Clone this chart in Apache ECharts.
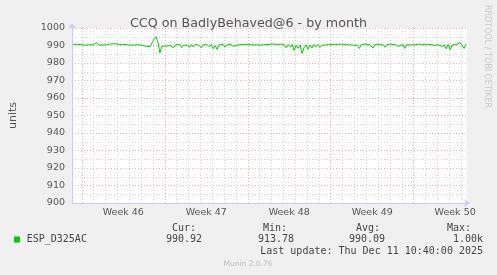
<!DOCTYPE html>
<html>
<head>
<meta charset="utf-8">
<script src="https://cdn.jsdelivr.net/npm/echarts@6/dist/echarts.min.js"></script>
<style>
html,body{margin:0;padding:0;background:#f0f0f0;}
#chart{width:497px;height:275px;}
</style>
</head>
<body>
<div id="chart"></div>
<script>
// ---- data ----
const titleText = 'CCQ on BadlyBehaved@6 - by month';
const seriesName = 'ESP_D325AC';
const weekLabels = ['Week 46', 'Week 47', 'Week 48', 'Week 49', 'Week 50'];
const weekStarts = [0, 168, 336, 504, 672];          // hours since Mon Nov 10 00:00
const yTicks = [900, 910, 920, 930, 940, 950, 960, 970, 980, 990, 1000];
const startHour = -18;   // first sample, hours since Mon Nov 10 00:00
const stepHours = 4;     // sample spacing
const values = [
  990.6, 990.4, 990.7, 990.3, 990.5, 990.8, 990.2, 990.6, 990.4, 990.7,
  990.3, 990.9, 991.6, 990.4, 990.8, 990.2, 991.2, 990.5, 990.1, 990.9,
  990.4, 991.0, 990.3, 990.7, 991.5, 990.6, 989.8, 990.5, 989.4, 990.2,
  989.7, 990.3, 990.1, 990.4, 990.3, 990.2, 990.1, 989.5, 989.0, 989.3,
  991.5, 993.5, 995.0, 992.0, 985.8, 989.6, 988.9, 989.7, 989.1, 990.0,
  990.2, 988.8, 990.4, 989.3, 990.6, 988.7, 990.1, 989.5, 990.3, 988.9,
  990.5, 989.2, 990.7, 989.6, 990.0, 988.6, 990.4, 989.8, 990.5, 989.3,
  990.6, 988.2, 989.9, 987.8, 990.3, 989.4, 990.7, 989.0, 990.4, 989.6,
  990.8, 989.5, 988.6, 990.3, 989.9, 990.5, 990.2, 990.7, 990.4, 990.6,
  990.5, 990.3, 990.8, 990.4, 990.6, 990.2, 990.7, 990.5, 990.3, 990.6,
  990.4, 990.9, 990.2, 990.6, 989.5, 990.8, 989.9, 990.4, 988.7, 990.5,
  989.2, 990.6, 987.2, 990.1, 988.4, 990.3, 985.5, 988.8, 990.4, 987.9,
  990.2, 988.6, 990.5, 989.3, 990.7, 988.9, 990.1, 989.6, 990.4, 989.9,
  990.5, 990.2, 990.7, 990.3, 990.6, 990.4, 990.8, 990.3, 990.5, 990.6,
  990.4, 990.7, 990.2, 990.5, 990.1, 988.3, 990.6, 990.4, 990.8, 990.2,
  990.5, 990.3, 988.6, 990.6, 990.4, 990.7, 990.5, 990.2, 989.0, 990.6,
  990.4, 990.8, 990.3, 990.5, 990.7, 989.5, 990.4, 990.6, 988.3, 990.5,
  990.6, 990.3, 990.7, 990.4, 990.5, 990.8, 990.2, 990.6, 990.4, 990.7,
  990.3, 990.6, 990.5, 990.2, 990.7, 990.4, 990.8, 989.3, 990.5, 988.1,
  990.6, 987.6, 990.3, 989.8, 990.5, 991.3, 991.6, 990.2, 988.3, 990.9
];
const legendHeads = ['Cur:', 'Min:', 'Avg:', 'Max:'];
const legendValues = ['990.92', '913.78', '990.09', '1.00k'];
const lastUpdate = 'Last update: Thu Dec 11 10:40:00 2025';
const footer = 'Munin 2.0.76';
const sideText = 'RRDTOOL / TOBI OETIKER';

// ---- derived ----
const xMin = -20, xMax = 780;
const seriesData = values.map((v, i) => [startHour + i * stepHours, v]);
const dayLines = [];
for (let h = 24; h < xMax; h += 24) if (weekStarts.indexOf(h) < 0) dayLines.push(h);
const weekMids = weekStarts.map(h => h + 84);

const sans = 'DejaVu Sans';
const mono = 'DejaVu Sans Mono';
const txt = '#444';
const axisBlue = '#c8c8ff';
const redGrid = 'rgba(235,110,110,0.55)';
const grayGrid = '#d4d4d4';

const chart = echarts.init(document.getElementById('chart'), null, {renderer: 'canvas'});

const headX = [172, 263, 356, 447];
const valX = [166, 258, 349, null];

const graphics = [
  {type: 'rect', shape: {x: 14, y: 236.5, width: 6, height: 6}, style: {fill: '#00cc00'}},
  {type: 'text', x: 26.7, y: 239.5, style: {text: seriesName, font: '10px ' + mono, fill: txt, textVerticalAlign: 'middle'}},
  {type: 'text', x: 483, y: 239.5, style: {text: legendValues[3], font: '10px ' + mono, fill: txt, textAlign: 'right', textVerticalAlign: 'middle'}},
  {type: 'text', x: 483, y: 251.5, style: {text: lastUpdate, font: '10px ' + mono, fill: txt, textAlign: 'right', textVerticalAlign: 'middle'}},
  {type: 'text', x: 248, y: 264.5, style: {text: footer, font: '7.5px ' + sans, fill: '#bbbbbb', textAlign: 'center', textVerticalAlign: 'middle'}},
  {type: 'text', x: 487, y: 5, rotation: -Math.PI / 2,
   style: {text: sideText, font: '8px ' + sans, fill: '#c8c8c8', textAlign: 'left', textVerticalAlign: 'middle'}}
];
legendHeads.forEach((t, i) => {
  graphics.push({type: 'text', x: headX[i], y: 228.5, style: {text: t, font: '10px ' + mono, fill: txt, textVerticalAlign: 'middle'}});
  if (valX[i] !== null) graphics.push({type: 'text', x: valX[i], y: 239.5, style: {text: legendValues[i], font: '10px ' + mono, fill: txt, textVerticalAlign: 'middle'}});
});

const hiddenAxisBase = {
  type: 'value', min: xMin, max: xMax, gridIndex: 0, position: 'bottom', offset: 0,
  axisLine: {show: false}, axisLabel: {show: false}
};

chart.setOption({
  animation: false,
  backgroundColor: '#f0f0f0',
  title: {
    text: titleText, left: 'center', top: 12,
    textStyle: {fontFamily: sans, fontSize: 12.7, fontWeight: 'normal', color: '#555'}
  },
  grid: {left: 67, right: 30, top: 28, bottom: 72, containLabel: false,
    show: true, backgroundColor: '#ffffff', borderWidth: 0},
  xAxis: [
    Object.assign({}, hiddenAxisBase, {
      axisTick: {show: false, customValues: dayLines},
      splitLine: {show: true, lineStyle: {color: grayGrid, width: 1, type: [1, 2]}}
    }),
    Object.assign({}, hiddenAxisBase, {
      axisTick: {show: false, customValues: weekStarts},
      splitLine: {show: true, lineStyle: {color: redGrid, width: 1, type: [1, 2]}}
    }),
    {
      type: 'value', min: xMin, max: xMax, gridIndex: 0, position: 'bottom', offset: 0,
      axisLine: {show: true, onZero: false, lineStyle: {color: axisBlue, width: 1}, symbol: ['none', 'arrow'], symbolSize: [6, 6], symbolOffset: [0, 3]},
      axisTick: {show: false, customValues: weekMids},
      axisLabel: {show: true, customValues: weekMids, margin: 5, color: '#555', fontFamily: sans, fontSize: 9.5,
        formatter: v => weekLabels[weekMids.indexOf(v)]},
      splitLine: {show: false}
    }
  ],
  yAxis: {
    type: 'value', min: 900, max: 1000, interval: 10,
    name: 'units', nameLocation: 'middle', nameGap: 53, nameRotate: 90,
    nameTextStyle: {fontFamily: sans, fontSize: 11, color: '#555'},
    axisLine: {show: true, onZero: false, lineStyle: {color: axisBlue, width: 1}, symbol: ['none', 'arrow'], symbolSize: [6, 6], symbolOffset: [0, 5]},
    axisTick: {show: false},
    axisLabel: {margin: 7, color: '#555', fontFamily: sans, fontSize: 9.5,
      formatter: v => yTicks.indexOf(v) >= 0 ? String(v) : ''},
    splitLine: {show: true, lineStyle: {color: redGrid, width: 1, type: [1, 2]}},
    minorTick: {show: false, splitNumber: 2},
    minorSplitLine: {show: true, lineStyle: {color: grayGrid, width: 1, type: [1, 2]}}
  },
  series: [{
    name: seriesName, type: 'line', xAxisIndex: 0, data: seriesData,
    showSymbol: false, symbol: 'none', z: 5,
    lineStyle: {color: '#00cc00', width: 1}, itemStyle: {color: '#00cc00'}
  }],
  graphic: graphics
});
</script>
</body>
</html>
